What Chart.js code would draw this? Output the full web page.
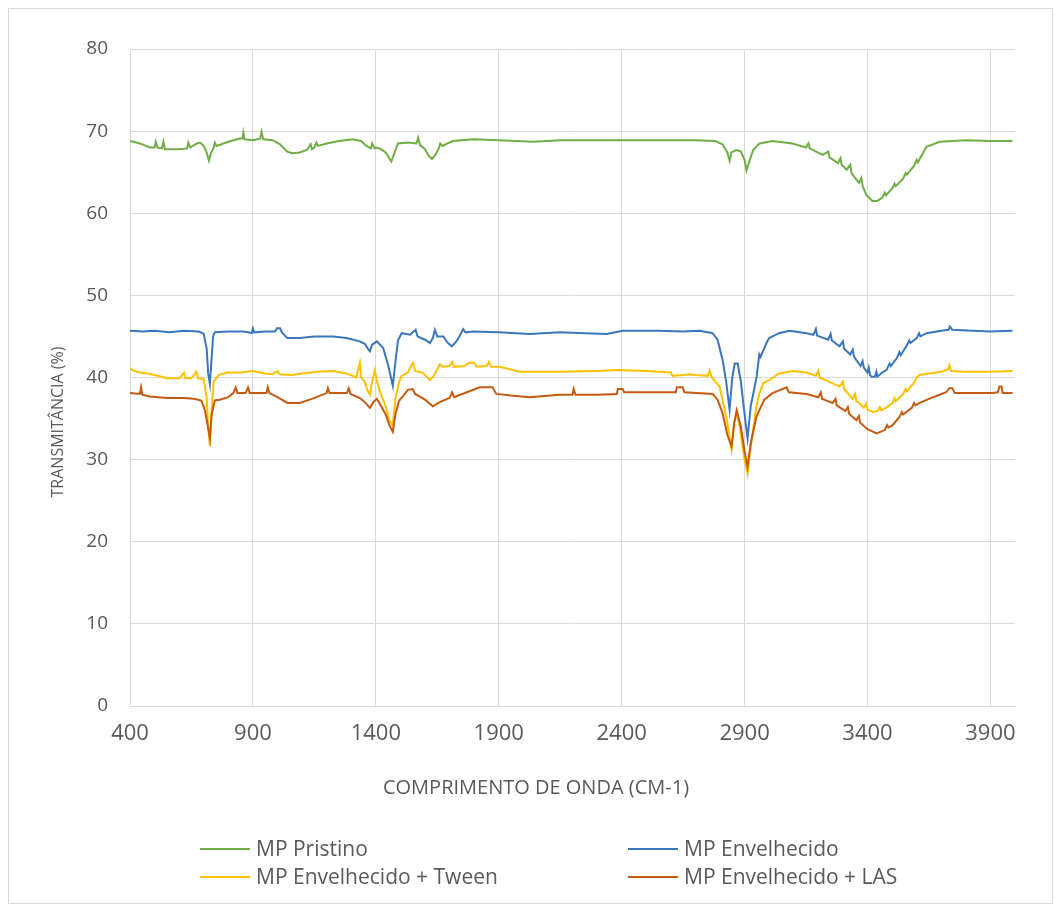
<!DOCTYPE html>
<html>
<head>
<meta charset="utf-8">
<script src="https://cdn.jsdelivr.net/npm/chart.js@4.4.1/dist/chart.umd.min.js"></script>
<style>
  body { margin: 0; background: #fff; }
  #wrap { position: relative; width: 1059px; height: 911px; }
  #frame { position: absolute; left: 8px; top: 8px; width: 1045px; height: 896px; border: 1px solid #d9d9d9; box-sizing: border-box; }
  #chart { position: absolute; left: 0; top: 0; }
  .legend { position: absolute; font-family: "Open Sans", sans-serif; font-size: 21px; color: #595959; }
  .legend .item { position: absolute; white-space: nowrap; line-height: 24px; }
  .legend .swatch { display: inline-block; width: 50px; height: 2px; vertical-align: middle; margin-right: 6px; margin-top: -3px; }
</style>
</head>
<body>
<div id="wrap">
  <div id="frame"></div>
  <canvas id="chart" width="1059" height="911"></canvas>
  <div class="legend" id="legend"></div>
</div>
<script>
// axis labels and ticks
const xTitle = "COMPRIMENTO DE ONDA (CM-1)";
const yTitle = "TRANSMITÂNCIA (%)";
const xTicks = [400, 900, 1400, 1900, 2400, 2900, 3400, 3900];
const seriesNames = ["MP Pristino", "MP Envelhecido", "MP Envelhecido + Tween", "MP Envelhecido + LAS"];
const seriesColors = ["#70ad47", "#3b76bd", "#ffc000", "#c55a11"];

// MP Pristino
const pristinoX = [400,440,481,500,505,512,530,536,542,600,632,637,645,672,685,700,712,721,728,740,745,752,800,847,858,861,866,900,930,935,942,980,1010,1040,1060,1090,1120,1135,1140,1150,1158,1165,1200,1250,1306,1340,1362,1380,1385,1395,1404,1420,1440,1463,1478,1490,1530,1565,1572,1580,1600,1615,1628,1640,1655,1662,1670,1713,1800,1900,2040,2150,2300,2500,2700,2780,2810,2830,2839,2846,2866,2885,2900,2908,2918,2935,2961,3014,3095,3150,3160,3165,3217,3240,3245,3280,3290,3295,3315,3330,3335,3365,3375,3380,3396,3420,3440,3461,3470,3475,3500,3510,3515,3545,3555,3560,3590,3600,3605,3640,3693,3800,3900,3990];
const pristinoY = [68.8,68.5,68.0,68.0,68.7,68.0,67.9,68.7,67.8,67.8,67.9,68.6,68.0,68.5,68.6,68.2,67.4,66.4,67.2,68.0,68.6,68.2,68.7,69.1,69.1,69.8,69.0,68.9,69.1,69.9,69.0,68.9,68.4,67.5,67.3,67.4,67.7,68.4,67.8,68.0,68.6,68.2,68.5,68.8,69.0,68.8,68.2,67.9,68.5,67.9,68.0,67.8,67.4,66.3,67.5,68.5,68.6,68.5,69.2,68.3,67.8,67.0,66.6,67.0,67.8,68.5,68.2,68.8,69.0,68.9,68.7,68.9,68.9,68.9,68.9,68.8,68.4,67.4,66.4,67.4,67.7,67.5,66.5,65.2,66.2,67.7,68.5,68.8,68.5,68.0,68.5,67.9,67.1,67.5,66.8,66.1,66.7,65.9,65.3,65.9,64.9,63.7,64.3,63.3,62.2,61.5,61.5,61.9,62.5,62.2,63.0,63.6,63.3,64.2,64.9,64.7,65.8,66.5,66.2,68.1,68.7,68.9,68.8,68.8];

// MP Envelhecido
const envelhecidoX = [400,450,500,560,620,680,700,712,718,725,730,738,745,800,860,880,895,900,905,950,990,998,1010,1018,1040,1090,1150,1227,1280,1335,1355,1370,1376,1385,1404,1430,1450,1469,1480,1490,1505,1540,1562,1570,1600,1620,1632,1640,1650,1675,1690,1709,1725,1740,1755,1765,1795,1900,2026,2148,2250,2339,2404,2550,2650,2717,2770,2790,2811,2825,2839,2850,2860,2872,2885,2900,2912,2925,2949,2960,2965,2989,3000,3040,3083,3152,3180,3190,3195,3240,3250,3255,3286,3300,3305,3330,3340,3345,3355,3372,3380,3385,3400,3405,3410,3416,3430,3436,3440,3460,3477,3490,3495,3520,3530,3535,3558,3570,3575,3600,3610,3615,3640,3700,3730,3735,3745,3827,3900,3990];
const envelhecidoY = [45.7,45.6,45.7,45.5,45.7,45.6,45.3,43.5,40.5,39.2,41.5,45.0,45.5,45.6,45.6,45.5,45.4,46.0,45.5,45.6,45.6,46.0,46.0,45.5,44.8,44.8,45.0,45.0,44.8,44.4,44.1,43.4,43.2,44.0,44.4,43.6,41.5,39.0,42.0,44.5,45.4,45.2,45.8,45.0,44.6,44.2,44.8,45.8,45.0,45.0,44.3,43.8,44.3,45.0,45.9,45.5,45.6,45.5,45.3,45.5,45.4,45.3,45.7,45.7,45.6,45.7,45.4,44.6,42.1,39.5,36.1,40.0,41.7,41.7,39.5,35.5,32.6,36.5,40.1,42.8,42.5,44.2,44.8,45.4,45.7,45.4,45.2,45.9,45.1,44.6,45.3,44.5,43.8,44.4,43.5,42.8,43.4,42.6,42.1,41.4,42.0,41.2,40.6,41.2,40.3,40.1,40.1,40.7,40.1,40.6,40.9,41.7,41.4,42.4,43.1,42.7,43.8,44.5,44.2,44.8,45.4,45.0,45.4,45.7,45.8,46.2,45.8,45.7,45.6,45.7];

// MP Envelhecido + Tween
const tweenX = [400,410,440,470,500,550,600,620,625,650,670,677,700,712,718,725,732,740,760,794,850,900,950,980,1000,1008,1060,1100,1160,1227,1280,1306,1320,1335,1340,1355,1365,1376,1385,1396,1405,1420,1440,1455,1469,1480,1495,1505,1530,1545,1551,1560,1590,1610,1620,1635,1650,1660,1673,1700,1710,1718,1760,1780,1800,1810,1850,1860,1868,1904,1985,2148,2300,2380,2500,2600,2607,2650,2676,2700,2750,2758,2765,2798,2827,2847,2858,2868,2880,2900,2912,2925,2948,2960,2975,3002,3040,3095,3152,3190,3200,3205,3250,3286,3300,3305,3340,3350,3355,3367,3385,3395,3400,3421,3440,3450,3455,3480,3502,3510,3515,3545,3555,3560,3590,3600,3612,3650,3700,3728,3733,3740,3800,3900,3990];
const tweenY = [41.2,40.9,40.6,40.5,40.3,39.9,39.9,40.6,39.9,39.9,40.7,39.9,39.8,37.5,34.0,31.6,36.0,39.5,40.3,40.6,40.6,40.8,40.5,40.4,40.8,40.4,40.3,40.5,40.7,40.8,40.5,40.2,40.0,41.8,40.0,39.5,38.5,37.9,39.5,40.9,39.5,38.0,36.5,34.8,34.2,37.5,39.5,40.2,40.6,41.5,41.8,40.8,40.6,40.0,39.7,40.2,41.0,41.6,41.3,41.4,41.9,41.3,41.4,41.8,41.8,41.3,41.4,41.9,41.3,41.3,40.7,40.7,40.8,40.9,40.8,40.6,40.2,40.3,40.4,40.3,40.2,40.9,40.1,38.9,35.0,31.2,34.5,35.7,34.0,30.0,28.3,31.5,36.5,38.0,39.3,39.7,40.5,40.8,40.6,40.2,40.8,40.0,39.4,38.9,39.5,38.6,37.4,38.0,37.1,36.9,36.3,36.8,36.1,35.8,35.9,36.4,36.0,36.4,36.9,37.5,37.1,38.0,38.6,38.3,39.4,40.0,40.3,40.5,40.7,41.0,41.5,40.8,40.7,40.7,40.8];

// MP Envelhecido + LAS
const lasX = [400,440,445,450,480,550,620,660,690,705,714,725,732,745,765,800,820,830,837,870,880,887,900,955,960,967,1000,1040,1090,1140,1200,1205,1212,1282,1290,1297,1335,1355,1376,1390,1404,1420,1440,1455,1469,1480,1495,1510,1530,1550,1560,1600,1632,1660,1700,1710,1718,1770,1823,1875,1890,1950,2026,2148,2200,2205,2212,2300,2380,2385,2404,2410,2500,2620,2625,2648,2655,2770,2790,2811,2830,2847,2858,2868,2885,2900,2912,2925,2948,2980,3014,3071,3080,3152,3200,3210,3215,3258,3270,3275,3310,3320,3325,3355,3365,3370,3400,3437,3470,3480,3485,3502,3530,3540,3545,3580,3590,3595,3612,3650,3693,3720,3733,3745,3755,3775,3908,3930,3937,3945,3950,3990];
const lasY = [38.1,38.0,38.8,37.9,37.7,37.5,37.5,37.4,37.2,36.0,34.5,32.6,35.5,37.2,37.3,37.6,38.1,38.8,38.1,38.1,38.8,38.1,38.1,38.1,38.8,38.1,37.6,36.9,36.9,37.4,38.1,38.7,38.1,38.1,38.7,38.0,37.5,37.0,36.3,37.0,37.4,36.6,35.5,34.2,33.4,35.6,37.2,37.7,38.5,38.6,38.0,37.3,36.5,37.0,37.5,38.2,37.6,38.2,38.8,38.8,38.0,37.8,37.6,37.9,37.9,38.6,37.9,37.9,38.0,38.6,38.6,38.2,38.2,38.2,38.8,38.8,38.2,38.0,37.3,35.6,33.0,31.6,34.5,36.0,34.0,31.0,29.1,32.0,35.2,37.3,38.1,38.8,38.2,38.0,37.6,38.2,37.4,36.9,37.4,36.6,35.9,36.4,35.6,34.8,35.3,34.5,33.7,33.2,33.6,34.2,33.9,34.2,35.2,35.8,35.5,36.3,36.9,36.6,36.9,37.4,37.9,38.2,38.7,38.7,38.1,38.1,38.1,38.2,38.9,38.9,38.1,38.1];

const seriesX = [pristinoX, envelhecidoX, tweenX, lasX];
const seriesY = [pristinoY, envelhecidoY, tweenY, lasY];

const toPoints = (xs, ys) => xs.map((x, i) => ({ x: x, y: ys[i] }));

const datasets = seriesNames.map((name, i) => ({
  label: name,
  data: toPoints(seriesX[i], seriesY[i]),
  borderColor: seriesColors[i],
  backgroundColor: "transparent",
  borderWidth: 2,
  pointRadius: 0,
  tension: 0,
  order: seriesNames.length - i
}));

// axis titles, centred on the whole chart like the original
const axisTitles = {
  id: "axisTitles",
  afterDraw(chart) {
    const ctx = chart.ctx;
    ctx.save();
    ctx.fillStyle = "#595959";
    ctx.textAlign = "center";
    ctx.textBaseline = "middle";
    ctx.font = "20px 'Open Sans'";
    ctx.fillText(xTitle, 536, 788);
    ctx.translate(58, 422);
    ctx.rotate(-Math.PI / 2);
    ctx.font = "16px 'Open Sans'";
    ctx.fillText(yTitle, 0, 0);
    ctx.restore();
  }
};

new Chart(document.getElementById("chart"), {
  type: "line",
  data: { datasets: datasets },
  options: {
    responsive: false,
    animation: false,
    layout: { padding: { top: 49, right: 44, bottom: 105, left: 0 } },
    plugins: { legend: { display: false }, tooltip: { enabled: false } },
    scales: {
      x: {
        type: "linear",
        min: 400,
        max: 4000,
        afterBuildTicks: scale => { scale.ticks = xTicks.map(v => ({ value: v })); },
        afterFit: scale => { scale.height = 100; },
        grid: { color: "#d9d9d9", drawTicks: false },
        border: { color: "#d9d9d9" },
        ticks: { color: "#595959", font: { family: "Open Sans", size: 22 }, padding: 15, maxRotation: 0, callback: v => String(v) }
      },
      y: {
        min: 0,
        max: 80,
        afterFit: scale => { scale.width = 130; },
        grid: { color: "#d9d9d9", drawTicks: false },
        border: { display: false },
        ticks: { stepSize: 10, color: "#595959", font: { family: "Open Sans", size: 19 }, padding: 22 }
      }
    }
  },
  plugins: [axisTitles]
});

// legend in two columns under the plot
const legendPos = [[200, 848], [628, 848], [200, 876], [628, 876]];
const legend = document.getElementById("legend");
seriesNames.forEach((name, i) => {
  const item = document.createElement("div");
  item.className = "item";
  item.style.left = legendPos[i][0] + "px";
  item.style.top = (legendPos[i][1] - 12) + "px";
  const sw = document.createElement("span");
  sw.className = "swatch";
  sw.style.background = seriesColors[i];
  item.appendChild(sw);
  item.appendChild(document.createTextNode(name));
  legend.appendChild(item);
});
</script>
</body>
</html>
